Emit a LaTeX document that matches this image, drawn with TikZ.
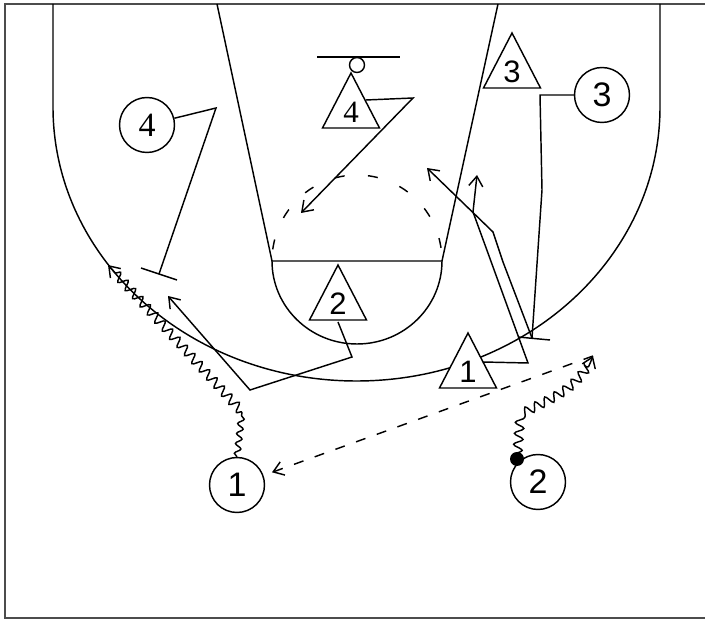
\documentclass[tikz,border=0pt]{standalone}
\usepackage{fontspec}
\setmainfont{Liberation Sans}
\newfontfamily\serifdig{Liberation Serif}
\usetikzlibrary{arrows.meta,decorations.pathmorphing}
\newcommand\defender[4]{%
  \draw[tri] (#2,#3) -- ++(28.5,55) -- ++(-57,0) -- cycle;
  \node[tlabel] (#1) at (#2,#3+39) {#4};}
\begin{document}
\begin{tikzpicture}[x=1pt,y=-1pt, line width=1.45pt,
  player/.style={circle,draw,fill=white,minimum size=55pt,inner sep=0pt,font=\fontsize{34}{34}\selectfont},
  tri/.style={draw,fill=white,line join=miter},
  tlabel/.style={inner sep=0pt,font=\fontsize{31}{31}\selectfont},
  mv/.style={-{Straight Barb[length=10pt,width=14pt]}},
  dribble/.style={decorate,decoration={snake,amplitude=4.5pt,segment length=11pt,post length=8pt}},
  pass/.style={dash pattern=on 10pt off 12pt}
]
\useasboundingbox (0,0) rectangle (705,620);
% frame
\draw[line width=2pt, black!70] (706,4) -- (5,4) -- (5,618) -- (706,618);
% court
\draw (53,4) -- (53,107) arc[start angle=180,end angle=360,x radius=303.5pt,y radius=274pt] -- (660,4);
\draw (217,4) -- (272,261) -- (442,261) -- (498,4);
\draw (272,261) arc[start angle=180,end angle=360,x radius=85pt,y radius=83pt];
\draw[dash pattern=on 10pt off 23.4pt, dash phase=21.7pt] (272,261) arc[start angle=180,end angle=0,x radius=85pt,y radius=86pt];
\draw (317,57) -- (400,57);
\draw (357,65) circle[radius=7.5pt];
% defenders
\defender{x4}{351}{73}{\serifdig 4}
\defender{x3}{512}{33}{3}
\defender{x2}{338}{265}{2}
\defender{x1}{468}{333}{1}
% offense
\node[player] (o4) at (147,125) {\serifdig 4};
\node[player] (o3) at (602,95) {3};
\node[player] (o1) at (237,485) {1};
\node[player] (o2) at (538,482) {2};
% O4 screen
\coordinate (o4a) at (216,108);
\coordinate (o4s) at (159,274);
\coordinate (o4b1) at (141,268);
\coordinate (o4b2) at (177,280);
\draw (o4) -- (o4a) -- (o4s);
\draw (o4b1) -- (o4b2);
% O3 screen
\coordinate (o3a) at (540,95);
\coordinate (o3b) at (542,190);
\coordinate (o3s) at (532,338);
\coordinate (o3b1) at (518,337);
\coordinate (o3b2) at (550,340);
\draw (o3) -- (o3a) -- (o3b) -- (o3s);
\draw (o3b1) -- (o3b2);
% X1 move
\coordinate (x1s) at (483,362);
\coordinate (x1a) at (528,363);
\coordinate (x1b) at (473,212);
\coordinate (x1e) at (477,175);
\draw[mv] (x1s) -- (x1a) -- (x1b) -- (x1e);
% cut from screen
\coordinate (ca) at (503,262);
\coordinate (cb) at (493,232);
\coordinate (ce) at (427,168);
\draw[mv] (o3s) -- (ca) -- (cb) -- (ce);
% X2 move
\coordinate (x2s) at (338,322);
\coordinate (x2a) at (352,357);
\coordinate (x2b) at (250,390);
\coordinate (x2e) at (168,296);
\draw[mv] (x2s) -- (x2a) -- (x2b) -- (x2e);
% X4 move
\coordinate (x4s) at (366,100);
\coordinate (x4a) at (413,98);
\coordinate (x4e) at (301,213);
\draw[mv] (x4s) -- (x4a) -- (x4e);
% O1 dribble
\coordinate (d1a) at (242,412);
\coordinate (d1e) at (108,265);
\draw[decorate,decoration={snake,amplitude=3pt,segment length=10pt}] (o1.north) -- (d1a);
\draw[mv,dribble] (d1a) -- (d1e);
% O2 dribble
\coordinate (d2s) at (517,459);
\coordinate (d2a) at (520,420);
\coordinate (d2e) at (593,356);
\fill (d2s) circle[radius=7pt];
\draw[mv,dribble] (d2s) -- (d2a) .. controls (545,405) and (578,398) .. (d2e);
% pass
\draw[mv,pass,shorten >=9pt] (d2e) -- (o1);
\end{tikzpicture}
\end{document}
